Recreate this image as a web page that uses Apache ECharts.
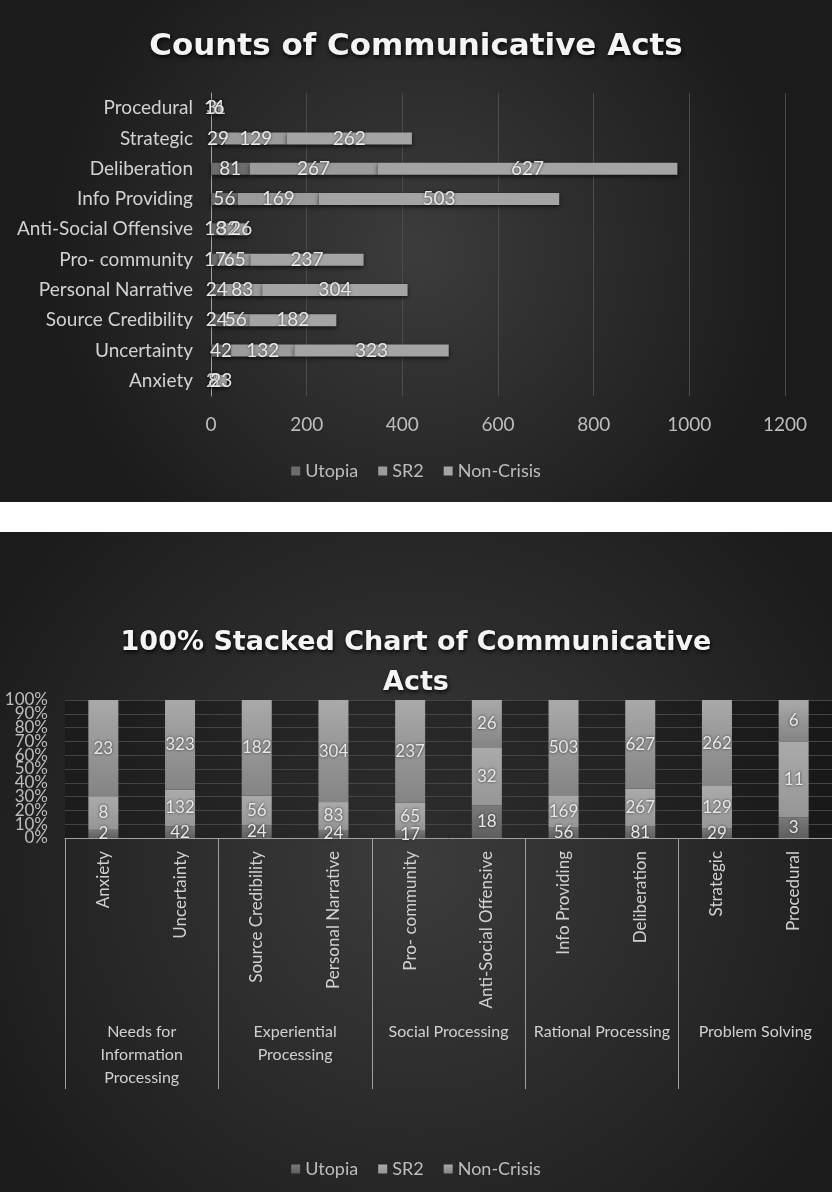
<!DOCTYPE html>
<html>
<head>
<meta charset="utf-8">
<script src="https://cdn.jsdelivr.net/npm/echarts@6/dist/echarts.min.js"></script>
<style>
  body { margin: 0; background: #fff; }
  #counts { width: 832px; height: 502px; }
  #stacked { width: 832px; height: 660px; margin-top: 30px; }
</style>
</head>
<body>
<div id="counts"></div>
<div id="stacked"></div>
<script>
  // data
  var acts = ['Anxiety', 'Uncertainty', 'Source Credibility', 'Personal Narrative', 'Pro- community',
    'Anti-Social Offensive', 'Info Providing', 'Deliberation', 'Strategic', 'Procedural'];
  var utopia = [2, 42, 24, 24, 17, 18, 56, 81, 29, 3];
  var sr2 = [8, 132, 56, 83, 65, 32, 169, 267, 129, 11];
  var nonCrisis = [23, 323, 182, 304, 237, 26, 503, 627, 262, 6];
  var groups = ['Needs for\nInformation\nProcessing', 'Experiential\nProcessing', 'Social Processing',
    'Rational Processing', 'Problem Solving'];
  var seriesNames = ['Utopia', 'SR2', 'Non-Crisis'];
  var countTicks = [0, 1200, 200]; // min, max, step
  var pctTicks = [0, 100, 10];
  var pctLabels = ['0%', '10%', '20%', '30%', '40%', '50%', '60%', '70%', '80%', '90%', '100%'];

  var allSeries = [utopia, sr2, nonCrisis];
  var font = 'Lato';
  var bg = {
    type: 'radial', x: 0.5, y: 0.5, r: 0.75,
    colorStops: [{ offset: 0, color: '#3c3c3c' }, { offset: 1, color: '#1b1b1b' }]
  };
  function titleStyle(size) {
    return {
      color: '#f4f4f4', fontFamily: 'DejaVu Sans', fontWeight: 'bold', fontSize: size,
      textShadowColor: 'rgba(0,0,0,0.9)', textShadowBlur: 4, textShadowOffsetX: 1, textShadowOffsetY: 2
    };
  }
  function labelStyle(size) {
    return {
      show: true, position: 'inside', color: '#e8e8e8', fontFamily: font, fontSize: size,
      textBorderWidth: 0, textShadowColor: 'rgba(0,0,0,0.7)', textShadowBlur: 3
    };
  }
  var legendStyle = { color: '#bdbdbd', fontFamily: font, fontSize: 18 };
  var flatColors = ['#6c6c6c', '#9b9b9b', '#a4a4a4'];

  // 计数条形图
  var counts = echarts.init(document.getElementById('counts'));
  counts.setOption({
    backgroundColor: bg,
    animation: false,
    title: { text: 'Counts of Communicative Acts', left: 'center', top: 31, padding: 0, textStyle: titleStyle(31) },
    legend: {
      data: seriesNames, top: 457, left: 'center', icon: 'rect', itemWidth: 9, itemHeight: 9, itemGap: 20,
      textStyle: legendStyle
    },
    grid: { left: 211, right: 47, top: 93, bottom: 106 },
    xAxis: {
      type: 'value', min: countTicks[0], max: countTicks[1], interval: countTicks[2],
      axisLine: { show: false }, axisTick: { show: false },
      axisLabel: { color: '#bdbdbd', fontFamily: font, fontSize: 19, margin: 19, formatter: function (v) { return String(v); } },
      splitLine: { lineStyle: { color: '#4c4c4c' } }
    },
    yAxis: {
      type: 'category', data: acts,
      axisLine: { lineStyle: { color: '#a5a5a5' } }, axisTick: { show: false },
      axisLabel: { color: '#d2d2d2', fontFamily: font, fontSize: 19, margin: 18 }
    },
    series: seriesNames.map(function (name, i) {
      return {
        name: name, type: 'bar', stack: 'total', barWidth: 12, data: allSeries[i],
        itemStyle: { color: flatColors[i], shadowColor: 'rgba(0,0,0,0.6)', shadowBlur: 4, shadowOffsetY: 2 },
        label: labelStyle(19)
      };
    })
  });

  // 100% 堆叠柱状图
  var totals = acts.map(function (a, j) { return utopia[j] + sr2[j] + nonCrisis[j]; });
  var gradColors = [['#7a7a7a', '#5e5e5e'], ['#aaaaaa', '#969696'], ['#a9a9a9', '#848484']];
  var stacked = echarts.init(document.getElementById('stacked'));
  stacked.setOption({
    backgroundColor: bg,
    animation: false,
    title: [
      { text: '100% Stacked Chart of Communicative', left: 'center', top: 97, padding: 0, textStyle: titleStyle(27) },
      { text: 'Acts', left: 'center', top: 137, padding: 0, textStyle: titleStyle(27) }
    ],
    legend: {
      data: seriesNames, top: 623, left: 'center', icon: 'rect', itemWidth: 9, itemHeight: 9, itemGap: 20,
      textStyle: legendStyle
    },
    grid: { left: 65, top: 168, width: 771, height: 138, show: true, backgroundColor: 'rgba(0,0,0,0.22)', borderWidth: 0 },
    xAxis: [{
      type: 'category', data: acts,
      axisLine: { lineStyle: { color: '#a0a0a0' } }, axisTick: { show: false },
      axisLabel: { interval: 0, rotate: 90, margin: 13, color: '#d0d0d0', fontFamily: font, fontSize: 17 }
    }, {
      type: 'category', data: groups, position: 'bottom',
      axisLine: { show: false },
      axisTick: { show: true, interval: 0, length: 251, lineStyle: { color: '#a0a0a0' } },
      axisLabel: { interval: 0, margin: 182, lineHeight: 23, color: '#d0d0d0', fontFamily: font, fontSize: 16 }
    }],
    yAxis: [{
      type: 'value', min: pctTicks[0], max: pctTicks[1], interval: pctTicks[2],
      axisLine: { show: false }, axisTick: { show: false }, axisLabel: { show: false },
      splitLine: { lineStyle: { color: '#454545' } }
    }, {
      // 刻度文字单独放在类目轴上，避免重叠时被隐藏
      type: 'category', data: pctLabels, position: 'left', boundaryGap: false,
      axisLine: { show: false }, axisTick: { show: false }, splitLine: { show: false },
      axisLabel: { interval: 0, color: '#bdbdbd', fontFamily: font, fontSize: 17, margin: 17 }
    }],
    series: seriesNames.map(function (name, i) {
      var raw = allSeries[i];
      return {
        name: name, type: 'bar', stack: 'pct', barWidth: 30, xAxisIndex: 0, yAxisIndex: 0,
        data: raw.map(function (v, j) { return v / totals[j] * 100; }),
        itemStyle: {
          color: new echarts.graphic.LinearGradient(0, 0, 0, 1, [
            { offset: 0, color: gradColors[i][0] }, { offset: 1, color: gradColors[i][1] }
          ])
        },
        label: Object.assign(labelStyle(17), {
          formatter: function (p) { return raw[p.dataIndex]; }
        })
      };
    })
  });
</script>
</body>
</html>
